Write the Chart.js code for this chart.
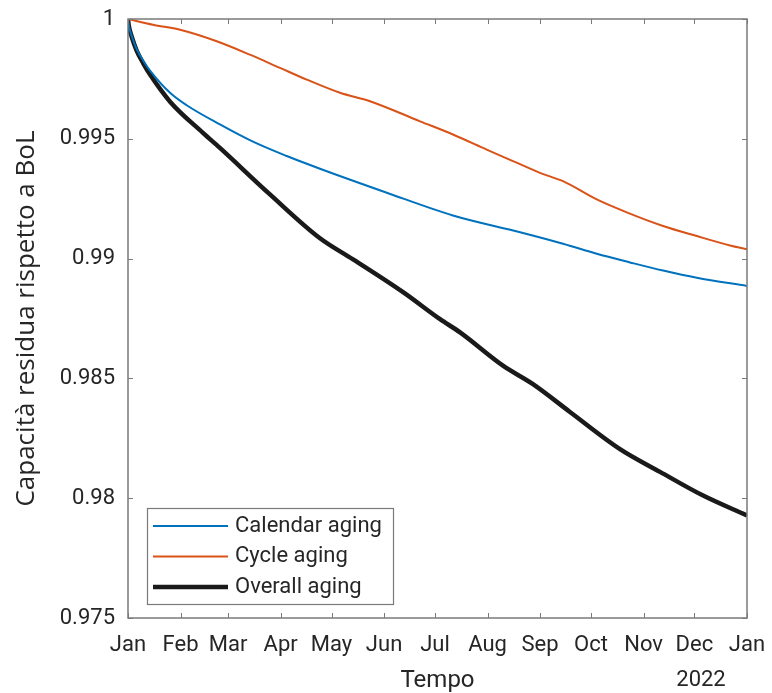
<!DOCTYPE html>
<html>
<head>
<meta charset="utf-8">
<script src="https://cdn.jsdelivr.net/npm/chart.js@4/dist/chart.umd.min.js"></script>
<style>
  html, body { margin: 0; padding: 0; background: #fff; }
  canvas { display: block; }
</style>
</head>
<body>
<canvas id="aging" width="772" height="693"></canvas>
<script>
// Days elapsed since 1 January and the residual capacity relative to BoL
const calendarDays   = [0, 0.4, 2.2, 5.1, 9, 13, 24.8, 34.6, 54.2, 73.7, 93.6, 113.2, 152.6, 191.6, 231.2, 256.5, 276.4, 296, 315.5, 335.4, 365];
const calendarValues = [1, 0.99976, 0.99929, 0.99874, 0.99826, 0.99785, 0.99692, 0.99640, 0.99560, 0.99488, 0.99428, 0.99375, 0.99275, 0.99180, 0.99110, 0.99062, 0.99020, 0.98984, 0.98950, 0.98920, 0.98886];

const cycleDays   = [0, 14.7, 30.7, 52.3, 71.9, 89.6, 105.4, 125, 142.7, 172.2, 191.6, 211.5, 227, 242.9, 256.5, 276.4, 294.1, 315.5, 335.4, 355, 365];
const cycleValues = [1, 0.99976, 0.99955, 0.99907, 0.99851, 0.99796, 0.99747, 0.99692, 0.99657, 0.99573, 0.99518, 0.99455, 0.99407, 0.99358, 0.99323, 0.99247, 0.99193, 0.99136, 0.99094, 0.99055, 0.99039];

const overallDays   = [0, 0.4, 2.2, 5.1, 9, 13, 24.8, 44.2, 54.2, 83.7, 113.2, 132.7, 162.2, 184, 195.8, 221.1, 238.8, 260.6, 290.1, 313.7, 339.1, 365];
const overallValues = [1, 0.99975, 0.99926, 0.99868, 0.99815, 0.99768, 0.99655, 0.99525, 0.99462, 0.99268, 0.99085, 0.98997, 0.98860, 0.98747, 0.98692, 0.98553, 0.98476, 0.98360, 0.98205, 0.98110, 0.98011, 0.97928];

const seriesNames = ['Calendar aging', 'Cycle aging', 'Overall aging'];

// Axis ticks
const monthStartDays = [0, 31, 59, 90, 120, 151, 181, 212, 243, 273, 304, 334, 365];
const monthLabels    = ['Jan', 'Feb', 'Mar', 'Apr', 'May', 'Jun', 'Jul', 'Aug', 'Sep', 'Oct', 'Nov', 'Dec', 'Jan'];
const yearLabel      = '2022';
const yTickValues    = [0.975, 0.98, 0.985, 0.99, 0.995, 1];
const yTickLabels    = ['0.975', '0.98', '0.985', '0.99', '0.995', '1'];

const TEXT = '#262626';
const AXIS = '#7a7a7a';
const TICK_FONT = { family: 'Roboto', size: 22 };

function toPoints(xs, ys) { return xs.map((x, i) => ({ x: x, y: ys[i] })); }

// Box around the plot with inward tick marks on all four sides
const boxPlugin = {
  id: 'box',
  afterDatasetsDraw(chart) {
    const { ctx, chartArea: a, scales: { x, y } } = chart;
    ctx.save();
    ctx.strokeStyle = AXIS;
    ctx.lineWidth = 1.5;
    ctx.strokeRect(a.left, a.top, a.right - a.left, a.bottom - a.top);
    ctx.lineWidth = 1;
    const len = 5;
    ctx.beginPath();
    x.ticks.forEach(t => {
      const px = Math.round(x.getPixelForValue(t.value)) + 0.5;
      ctx.moveTo(px, a.bottom); ctx.lineTo(px, a.bottom - len);
      ctx.moveTo(px, a.top); ctx.lineTo(px, a.top + len);
    });
    y.ticks.forEach(t => {
      const py = Math.round(y.getPixelForValue(t.value)) + 0.5;
      ctx.moveTo(a.left, py); ctx.lineTo(a.left + len, py);
      ctx.moveTo(a.right, py); ctx.lineTo(a.right - len, py);
    });
    ctx.stroke();
    ctx.restore();
  }
};

// Legend drawn inside the lower-left corner of the plot
const insideLegend = {
  id: 'insideLegend',
  afterDraw(chart) {
    const { ctx, chartArea: a } = chart;
    const left = a.left + 19, bottom = a.bottom - 14;
    const w = 246, h = 96, rowH = 30.5;
    const top = bottom - h;
    ctx.save();
    ctx.fillStyle = '#fff';
    ctx.fillRect(left, top, w, h);
    ctx.strokeStyle = AXIS;
    ctx.lineWidth = 1.2;
    ctx.strokeRect(left + 0.5, top + 0.5, w, h);
    ctx.font = '22px Roboto';
    ctx.textBaseline = 'middle';
    ctx.textAlign = 'left';
    chart.data.datasets.forEach((ds, i) => {
      const cy = top + 18 + i * rowH;
      ctx.strokeStyle = ds.borderColor;
      ctx.lineWidth = ds.borderWidth;
      ctx.beginPath();
      ctx.moveTo(left + 6, cy);
      ctx.lineTo(left + 81, cy);
      ctx.stroke();
      ctx.fillStyle = TEXT;
      ctx.fillText(ds.label, left + 88, cy);
    });
    ctx.restore();
  }
};

// Year written under the last month label
const yearPlugin = {
  id: 'yearLabel',
  afterDraw(chart) {
    const { ctx, scales: { x } } = chart;
    ctx.save();
    ctx.font = '22px Roboto';
    ctx.fillStyle = TEXT;
    ctx.textAlign = 'center';
    ctx.textBaseline = 'middle';
    ctx.fillText(yearLabel, x.getPixelForValue(monthStartDays[monthStartDays.length - 1]) - 46, 680);
    ctx.restore();
  }
};

new Chart(document.getElementById('aging'), {
  type: 'line',
  data: {
    datasets: [
      { label: seriesNames[0], data: toPoints(calendarDays, calendarValues), borderColor: '#0072BD', borderWidth: 2 },
      { label: seriesNames[1], data: toPoints(cycleDays, cycleValues), borderColor: '#D95319', borderWidth: 2 },
      { label: seriesNames[2], data: toPoints(overallDays, overallValues), borderColor: '#1a1a1a', borderWidth: 4.5 }
    ].map(d => Object.assign(d, { pointRadius: 0, fill: false, cubicInterpolationMode: 'monotone' }))
  },
  options: {
    responsive: false,
    animation: false,
    layout: { padding: { top: 19, right: 25, left: 0, bottom: 0 } },
    plugins: { legend: { display: false }, tooltip: { enabled: false } },
    scales: {
      x: {
        type: 'linear',
        min: 0,
        max: 365,
        grid: { display: false, drawTicks: false },
        border: { display: false },
        afterBuildTicks(scale) { scale.ticks = monthStartDays.map(v => ({ value: v })); },
        afterFit(scale) {
          scale.height = 75;
          scale.paddingLeft = 0;
          scale.paddingRight = 0;
        },
        ticks: {
          color: TEXT,
          font: TICK_FONT,
          padding: 14,
          maxRotation: 0,
          autoSkip: false,
          callback(value, index) { return monthLabels[index]; }
        },
        title: {
          display: true,
          text: 'Tempo',
          color: TEXT,
          font: { family: 'Roboto', size: 24, lineHeight: 1 },
          padding: { top: 0, bottom: 0 }
        }
      },
      y: {
        type: 'linear',
        min: 0.975,
        max: 1,
        grid: { display: false, drawTicks: false },
        border: { display: false },
        afterBuildTicks(scale) { scale.ticks = yTickValues.map(v => ({ value: v })); },
        afterFit(scale) {
          scale.width = 128;
          scale.paddingTop = 0;
          scale.paddingBottom = 0;
        },
        ticks: {
          color: TEXT,
          font: TICK_FONT,
          padding: 13,
          callback(value, index) { return yTickLabels[index]; }
        },
        title: {
          display: true,
          text: 'Capacità residua rispetto a BoL',
          color: TEXT,
          font: { family: 'Open Sans', size: 26, lineHeight: 1 },
          padding: { top: 14, bottom: 0 }
        }
      }
    }
  },
  plugins: [boxPlugin, insideLegend, yearPlugin]
});
</script>
</body>
</html>
